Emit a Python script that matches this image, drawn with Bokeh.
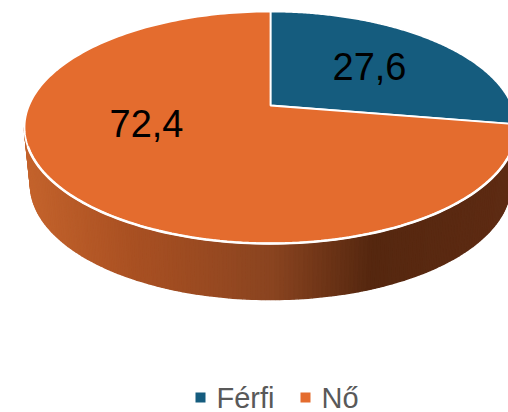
import math
from bokeh.plotting import figure
from bokeh.embed import file_html
from bokeh.resources import INLINE
from bokeh.core.properties import value

categories = ["Férfi", "Nő"]
shares = [27.6, 72.4]
labels = ["27,6", "72,4"]
colors = ["#155C7E", "#E46C2E"]
wall_stops = [(24, "#C4632C"), (130, "#A95022"), (270, "#8A4420"), (370, "#55270F"), (516, "#5E2B13")]

# top face as a tilted circle seen in perspective
CX, APEX_Y, TOP_Y, BOT_Y, WIDE = 270.0, 105.0, 11.0, 243.0, 246.0
c = 44 / 232
a = TOP_Y * (1 + c) - APEX_Y
rx = WIDE * math.sqrt(1 - c * c)

def rim(theta):
    u, v = math.sin(theta), math.cos(theta)
    d = 1 + c * v
    return CX + rx * u / d, (a * v + APEX_Y) / d

CY, RY = 127.0, 116.0
CYB, RYB, RXB = 184.0, 115.0, 240.0

def hex2rgb(h):
    return [int(h[i:i + 2], 16) for i in (1, 3, 5)]

def wall_color(x):
    for (x0, c0), (x1, c1) in zip(wall_stops, wall_stops[1:]):
        if x <= x1:
            f = max(0, (x - x0) / (x1 - x0))
            p0, p1 = hex2rgb(c0), hex2rgb(c1)
            return "#%02x%02x%02x" % tuple(round(m + (n - m) * f) for m, n in zip(p0, p1))
    return wall_stops[-1][1]

p = figure(width=508, height=412, x_range=(0, 508), y_range=(412, 0),
           output_backend="svg", toolbar_location=None,
           min_border=0, outline_line_color=None)
p.axis.visible = False
p.grid.visible = False

# side wall
xs, ys, cs = [], [], []
N = 160
for i in range(N):
    t0 = -math.pi / 2 + math.pi * i / N
    t1 = -math.pi / 2 + math.pi * (i + 1) / N
    xs.append([CX + WIDE * math.sin(t0), CX + WIDE * math.sin(t1),
               CX + RXB * math.sin(t1), CX + RXB * math.sin(t0)])
    ys.append([CY + RY * math.cos(t0), CY + RY * math.cos(t1),
               CYB + RYB * math.cos(t1), CYB + RYB * math.cos(t0)])
    cs.append(wall_color(xs[-1][0]))
p.patches(xs, ys, fill_color=cs, line_color=cs, line_width=1.6)

# top face slices
total = sum(shares)
start = 0.0
label_pos = [(369, 66), (146, 123)]
for share, col in zip(shares, colors):
    sweep = 2 * math.pi * share / total
    pts = [rim(start + sweep * k / 200) for k in range(201)]
    px = [CX] + [q[0] for q in pts]
    py = [APEX_Y] + [q[1] for q in pts]
    p.patch(px, py, fill_color=col, line_color="white", line_width=1.8)
    start += sweep

# brighter front edge of the top face
front = [rim(math.radians(110 + 1.4 * k)) for k in range(101)]
p.line([q[0] for q in front], [q[1] for q in front], line_color="white", line_width=2.6)

p.text([q[0] for q in label_pos], [q[1] for q in label_pos], text=labels,
       text_font=value("Liberation Sans"), text_font_size="38px", text_color="#000000",
       text_align="center", text_baseline="middle")

# legend
leg_sq_x = [200, 305]
leg_tx_x = [216, 321]
leg_y = 397
p.scatter(leg_sq_x, [leg_y] * 2, marker="square", size=10, fill_color=colors, line_color=None)
p.text(leg_tx_x, [leg_y] * 2, text=categories, text_font=value("Liberation Sans"),
       text_font_size="29px", text_color="#595959", text_align="left", text_baseline="middle")

open("out.html", "w").write(file_html(p, INLINE))
